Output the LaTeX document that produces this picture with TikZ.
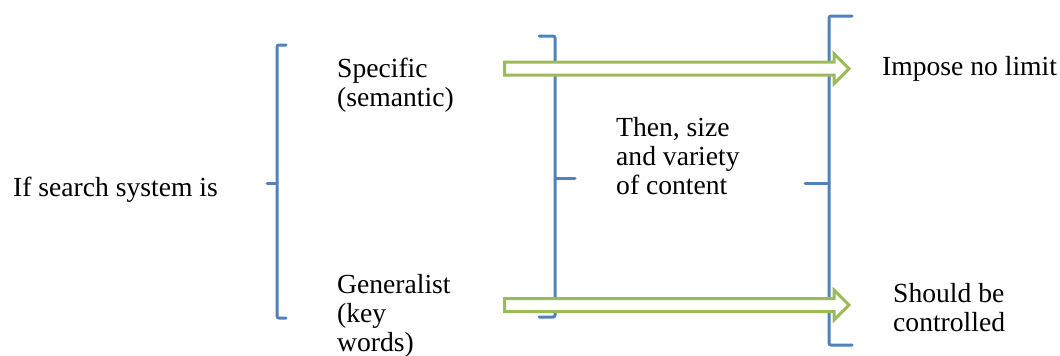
\documentclass[tikz,border=0pt]{standalone}
\usepackage{fontspec}
\setmainfont{Liberation Serif}
\usepackage{xcolor}
\usepackage{tikz}
\usetikzlibrary{calc}
\definecolor{braceblue}{RGB}{79,129,189}
\definecolor{arrowgreen}{RGB}{155,187,89}

% block arrow between two coordinates on one line
\newcommand{\fatarrow}[2]{%
  \draw[fatarrow] let \p1=(#1), \p2=(#2) in
    (\x1,\y1+6.5pt) -- (\x2-15pt,\y1+6.5pt) -- (\x2-15pt,\y1+15pt) -- (\x2,\y1)
    -- (\x2-15pt,\y1-15pt) -- (\x2-15pt,\y1-6.5pt) -- (\x1,\y1-6.5pt) -- cycle;}

\begin{document}
\begin{tikzpicture}[x=1pt,y=-1pt,
    brace/.style={braceblue,line width=3pt,line cap=round,rounded corners=2pt},
    fatarrow/.style={arrowgreen,line width=3pt,fill=white},
    txt/.style={anchor=base west,inner sep=0pt,align=left,font=\fontsize{27.6}{29}\selectfont}]
    \useasboundingbox (0,0) rectangle (1060,356);

    % Braces
    \draw[brace] (286,45) -- (277,45) -- (277,318) -- (286,318);
    \draw[brace] (277,183) -- (267,183);
    \draw[brace] (539,36) -- (555,36) -- (555,317) -- (539,317);
    \draw[brace] (555,178) -- (575,178);
    \draw[brace] (852,16) -- (829,16) -- (829,345) -- (852,345);
    \draw[brace] (829,183) -- (805,183);

    % Texts (base = last line)
    \node[txt] (cond) at (13,196) {If search system is};
    \node[txt] (spec) at (337,106) {Specific\\(semantic)};
    \node[txt] (gen) at (337,351) {Generalist\\(key\\words)};
    \node[txt] (then) at (616,194) {Then, size\\and variety\\of content};
    \node[txt] (nolimit) at (882,75) {Impose no limit};
    \node[txt] (ctrl) at (893,331) {Should be\\controlled};

    % Arrows
    \coordinate (a1) at (504.5,68.7);
    \coordinate (b1) at (849,68.7);
    \coordinate (a2) at (504.5,305);
    \coordinate (b2) at (849,305);
    \fatarrow{a1}{b1}
    \fatarrow{a2}{b2}
\end{tikzpicture}
\end{document}
